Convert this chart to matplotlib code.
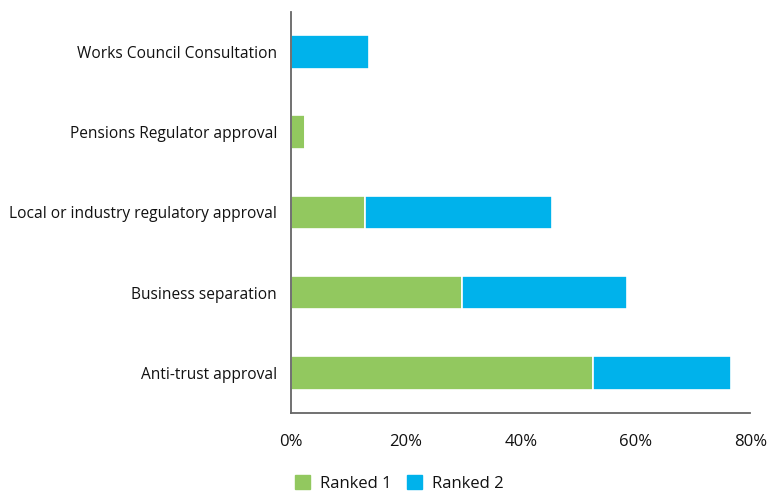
import matplotlib.pyplot as plt
from matplotlib.patches import Patch

# 数据（自下而上）
categories = [
    "Anti-trust approval",
    "Business separation",
    "Local or industry regulatory approval",
    "Pensions Regulator approval",
    "Works Council Consultation",
]
ranked_1 = [52.6, 29.7, 12.8, 2.5, 0.0]
ranked_2 = [24.1, 28.8, 32.7, 0.0, 13.6]
x_ticks = [0, 20, 40, 60, 80]

GREEN = "#92C85F"
BLUE = "#00B2EB"
TEXT = "#111111"

plt.rcParams["font.family"] = ["Open Sans", "DejaVu Sans"]

fig = plt.figure(figsize=(7.68, 4.98), dpi=100)
ax = fig.add_axes([0.379, 0.171, 0.598, 0.805])

y = range(len(categories))
ax.barh(y, ranked_1, height=0.42, color=GREEN, edgecolor="white", linewidth=1.2)
ax.barh(y, ranked_2, left=ranked_1, height=0.42, color=BLUE, edgecolor="white", linewidth=1.2)

ax.set_ylim(-0.5, len(categories) - 0.5)
ax.set_xlim(0, 80)
ax.set_yticks(list(y))
ax.set_yticklabels(categories, fontsize=11.2, color=TEXT)
ax.set_xticks(x_ticks)
ax.set_xticklabels([f"{t}%" for t in x_ticks], fontsize=12, color=TEXT)
ax.tick_params(axis="both", length=0)
ax.tick_params(axis="x", pad=15)
ax.tick_params(axis="y", pad=10)

for s in ["top", "right"]:
    ax.spines[s].set_visible(False)
for s in ["left", "bottom"]:
    ax.spines[s].set_color("#666666")
    ax.spines[s].set_linewidth(1.3)

handles = [Patch(color=GREEN, label="Ranked 1"), Patch(color=BLUE, label="Ranked 2")]
leg = fig.legend(handles=handles, loc="lower center", bbox_to_anchor=(0.52, -0.018), ncol=2,
                 frameon=False, fontsize=12, handlelength=0.9, handleheight=0.9,
                 handletextpad=0.6, columnspacing=0.9)
for t in leg.get_texts():
    t.set_color(TEXT)

fig.savefig("out.png", dpi=100)
